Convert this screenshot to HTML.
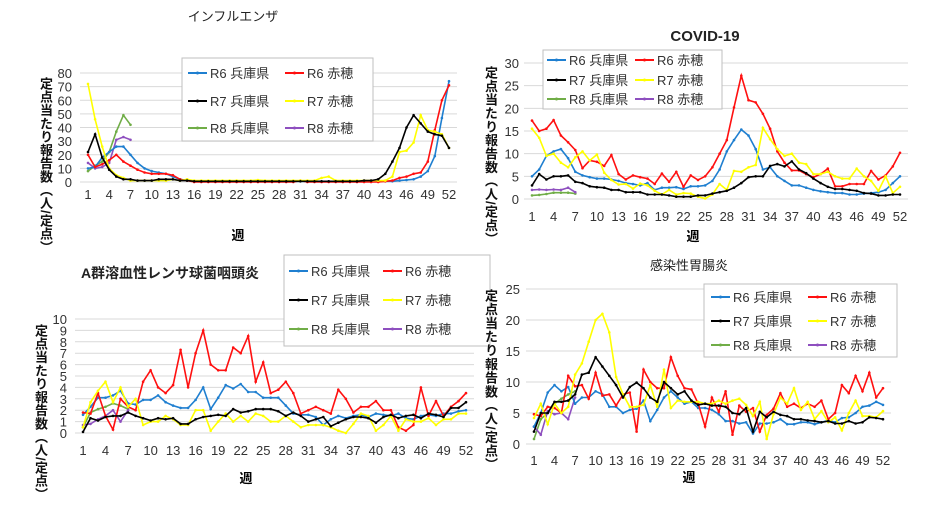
<!DOCTYPE html>
<html><head><meta charset="utf-8"><style>
body{margin:0;background:#fff;width:930px;height:524px;overflow:hidden;font-family:"Liberation Sans","Noto Sans CJK JP",sans-serif;position:relative}
svg text{font-family:"Liberation Sans","Noto Sans CJK JP",sans-serif}
.yl{position:absolute;writing-mode:vertical-rl;font-size:13px;font-weight:bold;line-height:14px;color:#111;white-space:nowrap}
</style></head><body>
<svg id="s" width="930" height="524" xmlns="http://www.w3.org/2000/svg" style="position:absolute;left:0;top:0">
<text x="233" y="21" font-size="13" text-anchor="middle" fill="#222">インフルエンザ</text>
<text x="705" y="41" font-size="15" font-weight="bold" text-anchor="middle" fill="#222">COVID-19</text>
<text x="170" y="278" font-size="14" font-weight="bold" text-anchor="middle" fill="#222">A群溶血性レンサ球菌咽頭炎</text>
<text x="689" y="270" font-size="13" text-anchor="middle" fill="#222">感染性胃腸炎</text>
</svg>
<div class="yl" style="left:38px;top:77px;letter-spacing:0.3px">定点当たり報告数（人/定点）</div>
<div class="yl" style="left:483px;top:66px;letter-spacing:0.5px">定点当たり報告数（人/定点）</div>
<div class="yl" style="left:33px;top:324px;letter-spacing:0.3px">定点当たり報告数（人/定点）</div>
<div class="yl" style="left:483px;top:289px;letter-spacing:0.7px">定点当たり報告数（人/定点）</div>
<script>
const C={b:"#1f7fd0",r:"#ff1010",k:"#000",y:"#ffff00",g:"#70ad47",p:"#8e4fbf"};
const D=[
{x1:88,x52:449,yt:73,yb:182,max:80,step:10,lx:72,xl:199,wk:[238,240],
 leg:{x:182,y:58,w:191,h:83,rows:[73,101,128],c1:188,c2:285},
 s:{b:[10,11,18,22,26,26,20,14,10,8,7,6,4,2,1,.5,.5,.5,.5,.5,.5,.5,.5,.5,.5,.5,.5,.5,.5,.5,.5,.5,.5,.5,.5,.5,.5,.5,.5,.5,.5,.5,.5,.5,1,1.5,2,4,8,19,47,74],
 r:[20,11,13,16,20,15,12,9,7,6,6,6,5,2,1,0,0,0,0,0,0,0,0,0,0,0,0,0,0,0,1,0,0,0,0,0,0,0,0,0,0,0,.5,1,3,4,6,7,15,38,60,71],
 k:[22,35,18,9,4,2,2,1,1,1,2,2,2,1,1,.5,.5,.5,.5,.5,.5,.5,.5,.5,.5,.5,.5,.5,.5,.5,.5,.5,.5,.5,.5,.5,.5,.5,.5,1,1,2,6,15,25,40,49,43,37,35,34,25],
 y:[72,46,26,10,5,3,1,1,1,1,1,1,2,1,2,1,1,1,1,1,1,1,1,1,1.5,1,1,1,1,1,1,1,1,3,4,1,1,1,1,1,1,1,1,4,22,23,29,49,38,37,35,25],
 g:[8,12,15,22,37,49,42],p:[14,10,11,14,31,33,31]}},
{x1:532,x52:900,yt:63,yb:199,max:30,step:5,lx:519,xl:221,wk:[693,241],
 leg:{x:543,y:50,w:179,h:59,rows:[60,80,99],c1:547,c2:635},
 s:{b:[5,6.5,9.5,10.5,11,9,6,5.2,4.8,4.5,4.5,4.3,4,3.5,3.3,3,3.5,2,2.5,2.5,2.6,2.2,2.8,2.8,3,4,6.5,10.5,13,15.3,14,11,6.5,7,5,4,3,3,2.5,2,1.7,1.5,1.3,1.3,1,1,1.2,1.3,1.5,2,3.5,5],
 r:[17.3,15,15.5,17.4,14,12.5,10.8,6.8,8.5,8.2,7.3,9.7,5.5,4.3,5.2,4.8,4.5,3.3,5.6,3.8,6,2.7,5.2,4.2,5,7,10,13,20.2,27.2,21.8,21.3,18.8,15.5,10.5,8,6.3,6.3,5.5,4.8,5.5,6.7,2.8,2.8,3.3,3.3,3.3,6.2,4.3,5.2,7.2,10.2],
 k:[3,5.5,4.3,5,5,5.2,3.8,3.5,2.8,2.6,2.5,2,2,1.5,1.5,1.5,1,1,1,.8,.5,.5,.5,.8,.8,1.2,1.5,1.8,2.5,3.5,4.8,5,5,7.3,7.7,7.2,8.3,6.5,5.7,4.5,3.5,2.7,2.2,2.2,2,1.8,1.3,1.2,.8,.8,1,1],
 y:[15.5,13.5,9.5,10,8,7,9.2,10.5,8.5,9.8,5.8,4.2,3.2,3.3,2.3,3.4,3,1.8,1,2,1,1.3,1.2,.5,.1,1,3.3,2,6.2,6,7,7.5,15.7,13.2,11,9.5,10,8,7.7,5.5,5.5,6,5,4.5,4.5,6.7,5,4,1.8,5,1.3,2.7],
 g:[.8,.9,1.1,1.4,1.4,1.4,1.2],p:[2,2.1,2,2.1,2,2.5,1.5]}},
{x1:83,x52:466,yt:319,yb:433,max:10,step:1,lx:67,xl:455,wk:[246,483],
 leg:{x:284,y:255,w:206,h:91,rows:[271,300,329],c1:289,c2:383},
 s:{b:[1.6,2.3,3.1,3.1,3.3,3.7,2.6,2.5,2.9,2.9,3.3,2.7,2.4,2.2,2.2,2.9,4,2.1,3.1,4.2,3.9,4.3,3.6,3.6,3.1,3.1,3.1,2.4,1.7,1.6,1.6,1.4,.7,1.2,1.5,1.3,1.5,1.6,1.4,1.7,1.6,1.5,1.7,1.3,1.2,1.5,1.6,1.5,1.7,1.7,1.9,2],
 r:[1.8,1.7,3.5,1.5,.3,3,2.3,2,4.5,5.5,4,3.5,4.2,7.3,4,7,9,6,5.5,5.5,7.5,7,8.5,4.5,6.2,3.5,3.8,4.5,3.5,1.7,2,2.3,2,1.7,3.8,3,1.8,2.3,2.3,2.8,2,2,.5,.2,.7,4,1.5,2.8,1.5,2.3,2.8,3.5],
 k:[.1,1.3,1.1,1.4,1.5,1.5,1.8,1.5,1.3,1.1,1.3,1.2,1.3,.8,.8,1.2,1.4,1.5,1.6,1.5,2.1,1.8,1.9,2.1,2.1,2.1,1.9,1.5,1.8,1.5,1,1.2,1.4,.6,.9,1.2,1.4,1.4,1.3,.9,1.4,1.6,1.3,1.5,1.6,1.3,1.7,1.6,1.4,2.2,2.2,2.7],
 y:[.5,2.7,3.7,4.5,2.7,4,2.3,3,.7,1,1,1.5,1.2,.7,.7,2,2,.2,1,1.7,1,1.5,1,1.7,1.5,1,1,1.5,1,.5,.7,.7,.7,.5,.2,0,.8,1.7,1.5,.2,.7,1.5,.2,1.2,1,1,1.3,.7,1.2,1.2,1.7,1.7],
 g:[.5,1.8,2.1,2.3,2.6,2.4,2.1],p:[.7,.8,1.2,1.5,2,1,2]}},
{x1:534,x52:883,yt:289,yb:444,max:25,step:5,lx:520,xl:465,wk:[689,482],
 leg:{x:704,y:284,w:193,h:73,rows:[297,321,345],c1:711,c2:808},
 s:{b:[2.8,5,8.3,9.5,8.5,9.2,6.5,7.5,7.5,8.5,8,6,6,5,5.5,5.7,7,3.7,5.5,7.5,8.5,7.5,6.5,6.8,5.8,5.8,5.5,4.8,3.7,3.7,3.3,3.5,1.7,3.3,3.3,3.5,4,3.2,3.2,3.5,3.5,3.2,3.5,3.8,3.5,4.2,4.3,5,6,6.2,6.8,6.3],
 r:[4.8,4.5,6,5.8,5,11,9.3,9.5,7.3,11.5,7.8,8,6.2,8,8.3,2,12,10,9,9,14,11,9,8.8,6.5,2.8,7.5,5.2,8.5,1.5,6.2,5.2,5.8,2,4.7,5.7,8.2,6,6.5,5.8,6.5,6,7,4,5,9.5,8.2,11,8.5,11.5,7.5,9],
 k:[2,5,5,6.8,6.8,7,8,11.2,11.5,14,12.5,11,9.5,7.5,9.2,9.9,9,7.5,6.8,10,9,8,8.5,7,6.3,6.5,6.2,6.2,6,5,4.8,5.8,2,5.2,4.3,5.2,4.7,4.5,4,4,3.8,3.7,3.5,3.7,3.3,3.3,3.7,3.3,3.5,4.3,4.2,4],
 y:[4.2,6.5,3.2,6.5,5,6,11.2,13,16.5,20,21,18,10.8,8,6,6,6.3,9.5,6,12,5.8,7,6.8,6.8,6.8,6.5,6.5,7,6.5,7,7.3,6.3,4.5,6.8,.8,4.8,7.5,6.5,9,5.5,6.8,4,5.3,3.5,4.3,2.2,5,7,4.5,4.5,4.3,5.3],
 g:[.8,4,5,6.5,7.3,8,8.5],p:[2.8,1.5,5.3,4.8,5,4,7.5]}}
];
const svg=document.getElementById('s');let h='';
const names={b:"R6 兵庫県",r:"R6 赤穂",k:"R7 兵庫県",y:"R7 赤穂",g:"R8 兵庫県",p:"R8 赤穂"};
D.forEach(d=>{
 const X=w=>d.x1+(w-1)*(d.x52-d.x1)/51, Y=v=>d.yb-v*(d.yb-d.yt)/d.max;
 for(let v=0;v<=d.max;v+=d.step){h+=`<line x1="${d.x1-8}" x2="${d.x52+8}" y1="${Y(v)}" y2="${Y(v)}" stroke="#d9d9d9"/>`;
  h+=`<text x="${d.lx}" y="${Y(v)+5}" font-size="13" text-anchor="end" fill="#333">${v}</text>`;}
 for(let w=1;w<=52;w+=3)h+=`<text x="${X(w)}" y="${d.xl}" font-size="13" text-anchor="middle" fill="#333">${w}</text>`;
 h+=`<text x="${d.wk[0]}" y="${d.wk[1]}" font-size="13" font-weight="bold" text-anchor="middle">週</text>`;
 ['g','p','b','r','y','k'].forEach(k=>{const a=d.s[k];const pts=a.map((v,i)=>X(i+1).toFixed(1)+','+Y(v).toFixed(1)).join(' ');
  h+=`<polyline points="${pts}" fill="none" stroke="${C[k]}" stroke-width="1.6"/>`;
  a.forEach((v,i)=>h+=`<circle cx="${X(i+1).toFixed(1)}" cy="${Y(v).toFixed(1)}" r="1.3" fill="${C[k]}"/>`);});
 const L=d.leg;h+=`<rect x="${L.x}" y="${L.y}" width="${L.w}" height="${L.h}" fill="#fff" stroke="#bfbfbf"/>`;
 [['b','r'],['k','y'],['g','p']].forEach((pr,i)=>pr.forEach((k,j)=>{const cx=j?L.c2:L.c1,cy=L.rows[i];
  h+=`<line x1="${cx}" x2="${cx+19}" y1="${cy}" y2="${cy}" stroke="${C[k]}" stroke-width="2"/><circle cx="${cx+9.5}" cy="${cy}" r="1.5" fill="${C[k]}"/>`;
  h+=`<text x="${cx+22}" y="${cy+5}" font-size="13" fill="#333">${names[k]}</text>`;}));
});
svg.insertAdjacentHTML('beforeend',h);
</script>
</body></html>
